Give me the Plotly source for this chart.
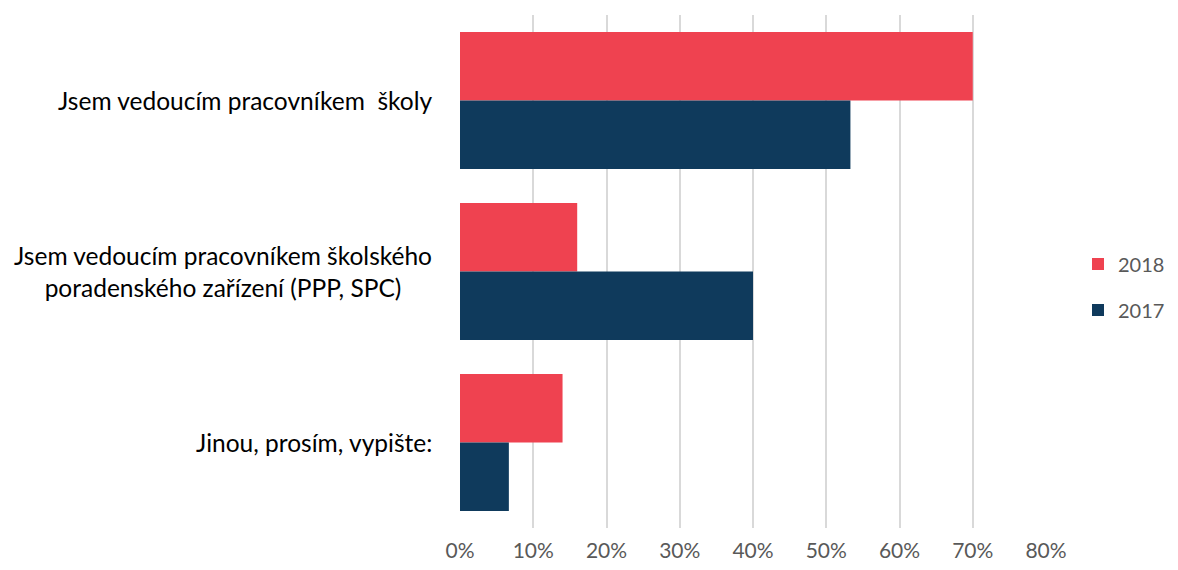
import plotly.graph_objects as go

categories = ["Jsem vedoucím pracovníkem\u00a0 školy",
              "Jsem vedoucím pracovníkem školského<br>poradenského zařízení (PPP, SPC)",
              "Jinou, prosím, vypište:"]
cat_ids = ["c1", "c2", "c3"]
values_2018 = [70.0, 16.0, 14.0]
values_2017 = [53.3, 40.0, 6.67]
x_ticks = [0, 10, 20, 30, 40, 50, 60, 70, 80]
x_tick_labels = ["0%", "10%", "20%", "30%", "40%", "50%", "60%", "70%", "80%"]

FONT = "Lato"

fig = go.Figure()
fig.add_trace(go.Bar(y=cat_ids, x=values_2018, name="2018", orientation="h",
                     legendgroup="a",
                     marker=dict(color="#EF4250", line=dict(width=0))))
fig.add_trace(go.Bar(y=cat_ids, x=values_2017, name="2017", orientation="h",
                     legendgroup="b",
                     marker=dict(color="#0F3A5C", line=dict(width=0))))

for cid, lab in zip(cat_ids, categories):
    fig.add_annotation(x=0, xref="paper", y=cid, yref="y", text=lab,
                       showarrow=False, xanchor="right", xshift=-26, align="center",
                       font=dict(family=FONT, size=24.5, color="#000000"))

fig.update_layout(
    width=1162, height=554,
    margin=dict(l=452, r=124, t=7, b=34),
    paper_bgcolor="white", plot_bgcolor="white",
    barmode="group", bargap=0.2, bargroupgap=0,
    font=dict(family=FONT),
    showlegend=True,
    legend=dict(xref="container", x=1.0, xanchor="right",
                y=0.47, yanchor="middle",
                font=dict(family=FONT, size=20, color="#595959"),
                itemwidth=30, tracegroupgap=17),
)
fig.update_xaxes(range=[0, 80], tickvals=x_ticks, ticktext=x_tick_labels,
                 showgrid=True, gridcolor="#D9D9D9", gridwidth=1.5,
                 zeroline=False, showline=False, ticks="", ticklabelstandoff=8,
                 automargin=False,
                 tickfont=dict(family=FONT, size=21, color="#595959"))
fig.update_yaxes(autorange="reversed", showticklabels=False, showgrid=False,
                 zeroline=False, showline=False, automargin=False)

fig.write_html("out.html")
